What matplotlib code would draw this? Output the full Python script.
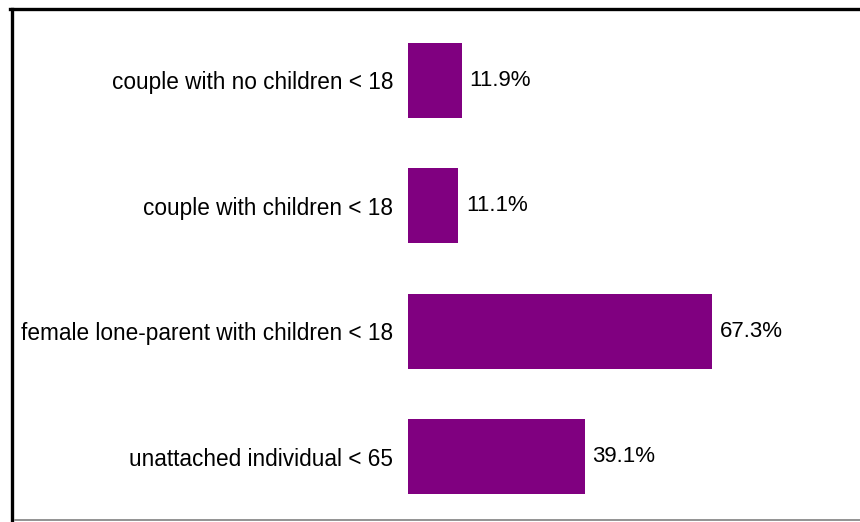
import matplotlib.pyplot as plt
from matplotlib.lines import Line2D

categories = ["couple with no children < 18", "couple with children < 18",
              "female lone-parent with children < 18", "unattached individual < 65"]
values = [11.9, 11.1, 67.3, 39.1]

plt.rcParams['font.family'] = ['Liberation Sans', 'DejaVu Sans']

fig = plt.figure(figsize=(8.6, 5.22), dpi=100)
W, H = 860, 522
ax = fig.add_axes([408 / W, 1 - 519.5 / H, 452 / W, 502 / H])

y = list(range(len(categories)))
ax.barh(y, values, height=0.6, color='#800080')
ax.set_xlim(0, 100)
ax.set_ylim(3.5, -0.5)
ax.set_yticks(y)
ax.set_yticklabels(categories, fontsize=16.3)
ax.tick_params(axis='y', length=0, pad=10.5)
ax.set_xticks([])
for s in ax.spines.values():
    s.set_visible(False)

for yi, v in zip(y, values):
    ax.text(v + 1.7, yi, f"{v}%", va='center', ha='left', fontsize=16)

# outer frame: left and top edges in black, bottom rule in grey
fig.add_artist(Line2D([11.5 / W, 11.5 / W], [0, 1 - 8.5 / H], color='black', lw=2.4,
                      transform=fig.transFigure))
fig.add_artist(Line2D([10 / W, 1], [1 - 8.5 / H, 1 - 8.5 / H], color='black', lw=2.4,
                      transform=fig.transFigure))
fig.add_artist(Line2D([15 / W, 1], [1 - 520 / H, 1 - 520 / H], color='#808080', lw=1.2,
                      transform=fig.transFigure))

fig.savefig('out.png', dpi=100)
